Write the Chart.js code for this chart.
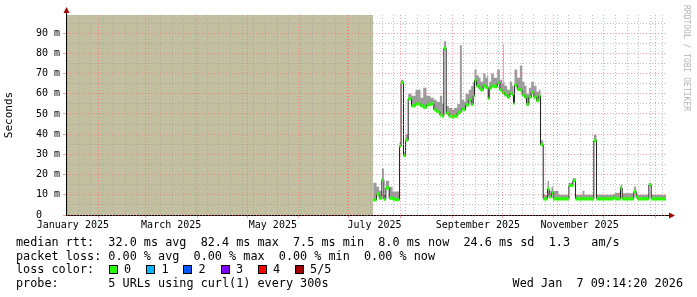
<!DOCTYPE html>
<html>
<head>
<meta charset="utf-8">
<script src="https://cdn.jsdelivr.net/npm/chart.js@4/dist/chart.umd.min.js"></script>
<style>
  html, body { margin: 0; padding: 0; background: #fff; }
  #wrap { position: relative; width: 697px; height: 297px; overflow: hidden; }
  #wrap canvas { position: absolute; left: 0; top: 0; }
  .txt { position: absolute; font-family: 'DejaVu Sans Mono', monospace; font-size: 11.8px; line-height: 14px; white-space: pre; color: #000; }
  .box { position: absolute; top: 265px; width: 7px; height: 7px; border: 1px solid #000; }
  #mark { position: absolute; left: 682px; top: 5px; writing-mode: vertical-rl; font-family: 'DejaVu Sans Mono', monospace; font-size: 8px; color: #b4b4b4; white-space: pre; }
</style>
</head>
<body>
<div id="wrap">
  <canvas id="rttChart" width="697" height="297"></canvas>
  <div id="mark">RRDTOOL / TOBI OETIKER</div>
  <div class="txt" style="left:16px; top:234.7px;">median rtt:  32.0 ms avg  82.4 ms max  7.5 ms min  8.0 ms now  24.6 ms sd  1.3   am/s</div>
  <div class="txt" style="left:16px; top:248.5px;">packet loss: 0.00 % avg  0.00 % max  0.00 % min  0.00 % now</div>
  <div class="txt" style="left:16px; top:262.3px;">loss color:</div>
  <div id="lossLegend"></div>
  <div class="txt" style="left:16px; top:276.2px;">probe:       5 URLs using curl(1) every 300s</div>
  <div class="txt" style="right:14px; top:276.2px;">Wed Jan  7 09:14:20 2026</div>
</div>
<script>
// x axis in days since 2025-01-01
const xMin = 11.38;
const xMax = 371.38;
const yMax = 99;

const monthStarts = [31, 59, 90, 120, 151, 181, 212, 243, 273, 304, 334, 365];
const monthLabelDays = [15.5, 74.5, 135.5, 196.5, 258.5, 319.5];
const monthLabels = ['January 2025', 'March 2025', 'May 2025', 'July 2025', 'September 2025', 'November 2025'];
const firstMonday = 12; // 2025-01-13

const yTickValues = [0, 5, 10, 15, 20, 25, 30, 35, 40, 45, 50, 55, 60, 65, 70, 75, 80, 85, 90, 95];

// no data before mid July
const unknownFrom = xMin;
const unknownTo = 195.7;

// median rtt (ms) steps, each value holds from its day to the next one
const rttDays = [
    195.7, 197.7, 199.3, 200.9, 202.1, 203.3, 205.3, 207.3, 208.7, 211.5,
    212.4, 213.9, 215.1, 216.7, 218.7, 221.1, 224.1, 225.7, 227.7, 230.1,
    232.1, 233.7, 235.7, 237.1, 238.1, 239.5, 241.1, 243.1, 244.1, 246.1,
    247.7, 248.9, 250.1, 251.1, 253.1, 254.5, 255.7, 256.5, 257.7, 259.1,
    260.1, 261.7, 263.1, 264.1, 264.7, 265.3, 266.5, 268.1, 270.1, 271.7,
    273.1, 273.7, 274.1, 274.5, 276.1, 277.7, 279.1, 279.9, 280.5, 282.1,
    283.7, 285.1, 286.5, 287.7, 289.1, 290.5, 292.1, 293.7, 295.1, 296.1,
    297.7, 300.3, 301.2, 302.7, 303.7, 306.9, 313.1, 315.5, 317.1, 321.3,
    322.5, 328.1, 329.7, 339.9, 341.1, 344.1, 345.1, 352.1, 353.5, 354.3,
    361.1, 362.5, 371.4
];
const rttMedian = [
    7.5, 10.3, 8.3, 17.4, 7.8, 13.3, 8.3, 8.0, 7.6, 34.0,
    65.5, 29.4, 37.0, 57.5, 54.0, 55.0, 54.0, 53.3, 54.5, 55.0,
    52.1, 51.2, 49.5, 49.0, 82.5, 50.4, 49.0, 48.4, 49.0, 50.4,
    51.2, 52.5, 52.1, 54.5, 57.0, 54.8, 58.9, 66.5, 63.9, 62.7,
    61.9, 63.9, 63.2, 63.2, 57.7, 62.7, 63.9, 63.5, 65.5, 61.9,
    60.6, 60.6, 60.6, 59.4, 58.3, 60.2, 59.4, 55.3, 64.3, 62.2,
    61.9, 59.4, 58.3, 54.8, 58.3, 60.6, 58.3, 56.6, 58.9, 34.8,
    8.0, 12.9, 9.0, 11.0, 8.0, 8.0, 14.6, 17.0, 8.0, 8.0,
    8.0, 36.8, 8.0, 8.5, 8.0, 13.3, 8.0, 11.6, 9.0, 8.0,
    14.9, 8.0, 8.0
];
// top of the smoke (slowest pings, ms)
const rttSmoke = [
    16, 14, 12, 23, 10, 17, 14, 11.6, 11.6, 36,
    67, 31, 40, 60, 59, 62, 58, 63, 59, 58,
    57, 56, 59, 55, 86, 54, 53, 52, 53, 55,
    84, 57, 56, 60, 62, 64, 66, 72, 69, 68,
    66, 70, 68, 69, 60, 66, 70, 68, 72, 67,
    65, 84.6, 66, 64, 62, 66, 64, 58, 72, 68,
    74, 66, 64, 60, 63, 66, 64, 61, 62, 37,
    10, 17, 12, 14, 11.9, 10, 16, 18.3, 10, 12,
    10, 39.8, 10, 10.5, 11, 15, 10.8, 14, 11, 10,
    16, 10, 10
];

const lossColors = ['#26ff00', '#00b8ff', '#0059ff', '#7e00ff', '#ff0000', '#a10000'];
const lossNames = ['0', '1', '2', '3', '4', '5/5'];

const majorGrid = 'rgba(255,95,95,0.6)';
const minorGrid = 'rgba(150,150,150,0.6)';
const bandHalf = 0.8;

// legend boxes for loss colours
const lossBoxX = [108.5, 146, 183, 220.5, 257.6, 294.6];
const lossLegend = document.getElementById('lossLegend');
lossColors.forEach((c, i) => {
    const b = document.createElement('div');
    b.className = 'box';
    b.style.left = lossBoxX[i] + 'px';
    b.style.background = c;
    lossLegend.appendChild(b);
    const t = document.createElement('div');
    t.className = 'txt';
    t.style.left = (lossBoxX[i] + 15.5) + 'px';
    t.style.top = '262.3px';
    t.textContent = lossNames[i];
    lossLegend.appendChild(t);
});

// x ticks: weekly minor grid, monthly major grid, mid-month labels
const weekDays = [];
for (let d = firstMonday; d <= xMax; d += 7) weekDays.push(d);
const xTickValues = Array.from(new Set([...weekDays, ...monthStarts, ...monthLabelDays])).sort((a, b) => a - b);

const pts = (vals, off) => rttDays.map((d, i) => ({x: d, y: vals[i] + off}));

const axisFont = {family: 'DejaVu Sans Mono', size: 10};

const axisArrows = {
    id: 'axisArrows',
    afterDraw(chart) {
        const {ctx, chartArea: a} = chart;
        ctx.save();
        ctx.strokeStyle = '#000';
        ctx.lineWidth = 1;
        ctx.beginPath();
        ctx.moveTo(a.left + 0.5, a.top);
        ctx.lineTo(a.left + 0.5, a.top - 3);
        ctx.moveTo(a.right, a.bottom + 0.5);
        ctx.lineTo(a.right + 4, a.bottom + 0.5);
        ctx.stroke();
        ctx.fillStyle = '#a00000';
        ctx.beginPath();
        ctx.moveTo(a.left + 0.5, a.top - 8);
        ctx.lineTo(a.left - 2.5, a.top - 2);
        ctx.lineTo(a.left + 3.5, a.top - 2);
        ctx.closePath();
        ctx.fill();
        ctx.beginPath();
        ctx.moveTo(a.right + 9, a.bottom + 0.5);
        ctx.lineTo(a.right + 3, a.bottom - 2.5);
        ctx.lineTo(a.right + 3, a.bottom + 3.5);
        ctx.closePath();
        ctx.fill();
        ctx.restore();
    }
};

const rttChart = new Chart(document.getElementById('rttChart'), {
    type: 'line',
    data: {
        datasets: [
            {
                label: 'loss 0',
                data: pts(rttMedian, bandHalf),
                stepped: true,
                borderWidth: 0,
                borderColor: 'rgba(0,0,0,0)',
                pointRadius: 0,
                backgroundColor: lossColors[0],
                fill: '+1'
            },
            {
                label: 'loss 0 low',
                data: pts(rttMedian, -bandHalf),
                stepped: true,
                borderWidth: 0,
                borderColor: 'rgba(0,0,0,0)',
                pointRadius: 0,
                fill: false
            },
            {
                label: 'median rtt',
                data: pts(rttMedian, 0),
                stepped: true,
                borderWidth: 1,
                borderColor: '#202020',
                pointRadius: 0,
                fill: false
            },
            {
                label: 'smoke',
                data: pts(rttSmoke, 0),
                stepped: true,
                borderWidth: 0,
                borderColor: 'rgba(0,0,0,0)',
                pointRadius: 0,
                backgroundColor: '#9c9c9c',
                fill: 2
            },
            {
                label: 'unknown',
                data: [{x: unknownFrom, y: yMax}, {x: unknownTo, y: yMax}],
                borderWidth: 0,
                borderColor: 'rgba(0,0,0,0)',
                pointRadius: 0,
                backgroundColor: '#c2c0a0',
                fill: 'origin'
            }
        ]
    },
    options: {
        responsive: false,
        animation: false,
        devicePixelRatio: 1,
        layout: {padding: {left: 0, right: 31, top: 15, bottom: 0}},
        plugins: {
            legend: {display: false},
            tooltip: {enabled: false}
        },
        scales: {
            x: {
                type: 'linear',
                min: xMin,
                max: xMax,
                afterBuildTicks: (scale) => { scale.ticks = xTickValues.map(v => ({value: v})); },
                afterFit: (scale) => { scale.height = 82; },
                grid: {
                    z: 1,
                    color: (c) => {
                        const v = c.tick ? c.tick.value : null;
                        if (monthStarts.includes(v)) return majorGrid;
                        if (monthLabelDays.includes(v)) return 'rgba(0,0,0,0)';
                        return minorGrid;
                    },
                    tickColor: (c) => (c.tick && monthStarts.includes(c.tick.value)) ? majorGrid : 'rgba(0,0,0,0)',
                    borderDash: [1, 2],
                    tickLength: 3
                },
                border: {z: 1, color: '#000', width: 1, dash: [1, 2]},
                ticks: {
                    autoSkip: false,
                    maxRotation: 0,
                    minRotation: 0,
                    padding: 1,
                    color: '#000',
                    font: axisFont,
                    callback: (v) => {
                        const i = monthLabelDays.indexOf(v);
                        return i >= 0 ? monthLabels[i] : '';
                    }
                }
            },
            y: {
                type: 'linear',
                min: 0,
                max: yMax,
                afterBuildTicks: (scale) => { scale.ticks = yTickValues.map(v => ({value: v})); },
                afterFit: (scale) => { scale.width = 66; },
                title: {
                    display: true,
                    text: 'Seconds',
                    color: '#000',
                    font: {family: 'DejaVu Sans Mono', size: 11},
                    padding: {top: 3, bottom: 0}
                },
                grid: {
                    z: 1,
                    color: (c) => (c.tick && c.tick.value % 10 === 0) ? majorGrid : minorGrid,
                    tickColor: (c) => (c.tick && c.tick.value % 10 === 0) ? majorGrid : 'rgba(0,0,0,0)',
                    borderDash: [1, 2],
                    tickLength: 3
                },
                border: {z: 1, color: '#000', width: 1, dash: [1, 2]},
                ticks: {
                    autoSkip: false,
                    padding: 3,
                    color: '#000',
                    font: axisFont,
                    callback: (v) => {
                        if (v % 10 !== 0) return '';
                        return v === 0 ? '0   ' : v + ' m';
                    }
                }
            }
        }
    },
    plugins: [axisArrows]
});
</script>
</body>
</html>
